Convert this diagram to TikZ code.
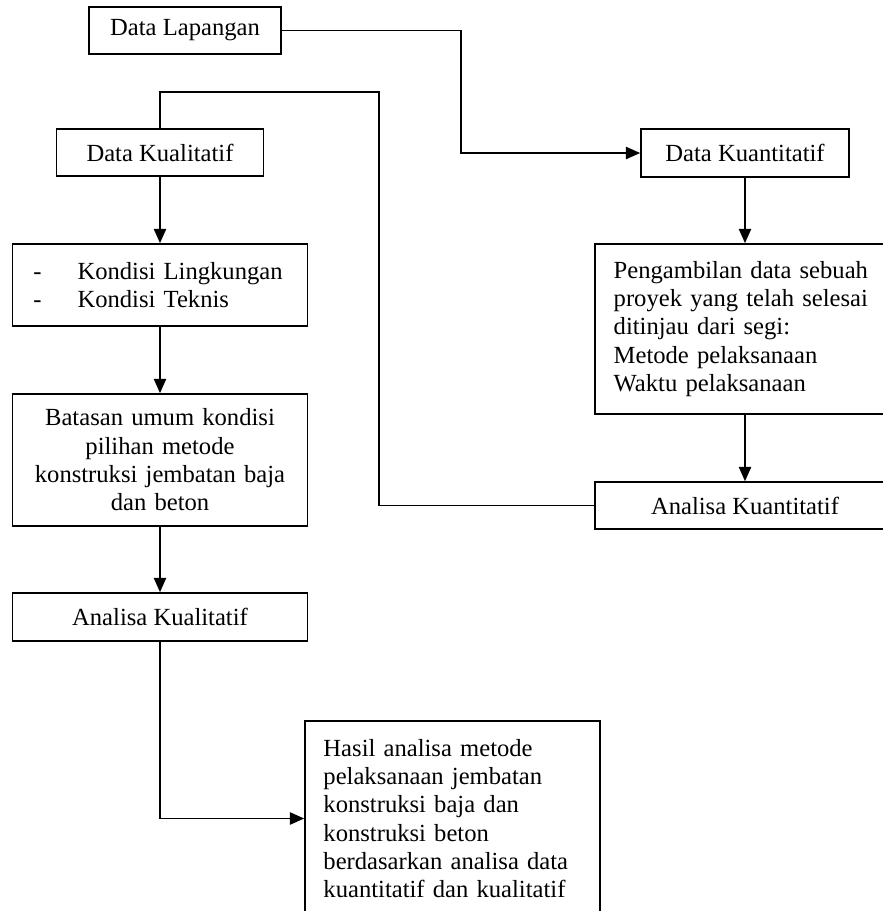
\documentclass[tikz,border=0pt]{standalone}
\usepackage{fontspec}
\setmainfont{Liberation Serif}
\usetikzlibrary{arrows.meta}

\tikzset{
  kotak/.style={draw, line width=0.8pt, inner sep=0pt, align=center,
    font=\fontsize{12pt}{13.8pt}\selectfont},
  kotakkiri/.style={kotak, align=left},
  panah/.style={line width=0.8pt, -{Triangle[length=7pt,width=6pt]}},
  garis/.style={line width=0.8pt}
}

\begin{document}
\begin{tikzpicture}[x=0.4875pt,y=-0.4875pt]

\useasboundingbox (0,0) rectangle (883,911);
\clip (0,0) rectangle (883,911);

% kolom kiri
\node[kotak, minimum width=93.6pt, minimum height=22.9pt] (lap) at (185,30.5) {Data Lapangan};
\node[kotak, minimum width=100.9pt, minimum height=22.9pt] (kual) at (160,152.5) {Data Kualitatif};
\node[kotakkiri, text width=123.4pt, inner xsep=10.2pt, minimum height=40pt] (kond) at (160,285)
  {\makebox[21.5pt][l]{-}Kondisi Lingkungan\\ \makebox[21.5pt][l]{-}Kondisi Teknis};
\node[kotak, text width=130pt, inner xsep=6.9pt, minimum height=64.4pt] (bat) at (160,460)
  {Batasan umum kondisi\\ pilihan metode\\ konstruksi jembatan baja\\ dan beton};
\node[kotak, minimum width=143.8pt, minimum height=23.4pt] (akual) at (160,617) {Analisa Kualitatif};

% kolom kanan
\node[kotak, minimum width=101.4pt, minimum height=23.4pt] (kuan) at (745,153) {Data Kuantitatif};
\node[kotakkiri, text width=128pt, inner xsep=9pt, minimum height=82.9pt] (ambil) at (745,329)
  {Pengambilan data sebuah\\ proyek yang telah selesai\\ ditinjau dari segi:\\ Metode pelaksanaan\\ Waktu pelaksanaan};
\node[kotak, minimum width=146pt, minimum height=22.9pt] (akuan) at (745,505.5) {Analisa Kuantitatif};

% hasil
\node[kotakkiri, text width=125.8pt, inner xsep=9pt, minimum height=95pt] (hasil) at (452.5,818.5)
  {Hasil analisa metode\\ pelaksanaan jembatan\\ konstruksi baja dan\\ konstruksi beton\\ berdasarkan analisa data\\ kuantitatif dan kualitatif};

% titik belok
\coordinate (belokA) at (461,30.5);
\coordinate (belokB) at (379,92);

\draw[panah] (lap.east) -- (belokA) |- (kuan.west);
\draw[garis] (kual.north) |- (belokB) |- (akuan.west);

\draw[panah] (kual) -- (kond);
\draw[panah] (kond) -- (bat);
\draw[panah] (bat) -- (akual);
\draw[panah] (akual.south) |- (hasil.west);

\draw[panah] (kuan) -- (ambil);
\draw[panah] (ambil) -- (akuan);

\end{tikzpicture}
\end{document}
